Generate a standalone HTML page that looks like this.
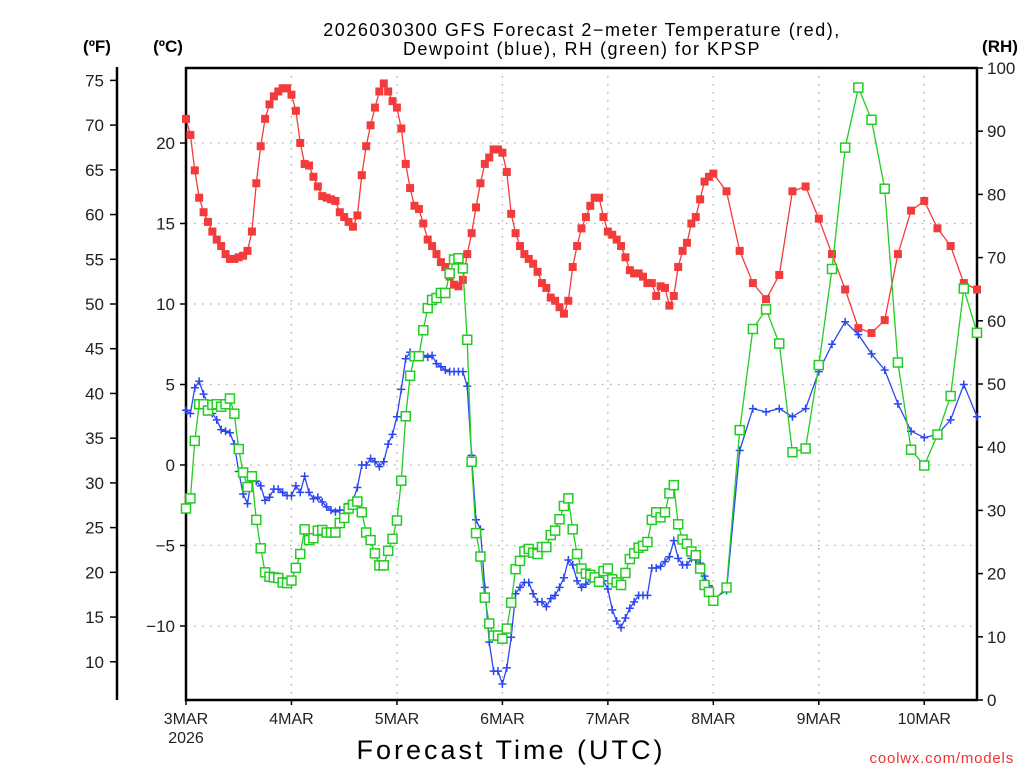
<!DOCTYPE html>
<html><head><meta charset="utf-8"><style>
html,body{margin:0;padding:0;background:#fff;width:1024px;height:768px;overflow:hidden}
svg text{font-family:"Liberation Sans",sans-serif}
</style></head><body>
<svg id="chart" width="1024" height="768" viewBox="0 0 1024 768" xmlns="http://www.w3.org/2000/svg">
<g id="grid"></g>
<g id="axes"></g>
<g id="series"></g>
<text x="582" y="36" font-size="18" text-anchor="middle" letter-spacing="1.5">2026030300 GFS Forecast 2−meter Temperature (red),</text>
<text x="582" y="55" font-size="18" text-anchor="middle" letter-spacing="1.5">Dewpoint (blue), RH (green) for KPSP</text>
<text x="97" y="52" font-size="17" font-weight="bold" text-anchor="middle">(ºF)</text>
<text x="168" y="52" font-size="17" font-weight="bold" text-anchor="middle">(ºC)</text>
<text x="1000" y="52" font-size="17" font-weight="bold" text-anchor="middle">(RH)</text>
<text x="511" y="759" font-size="27" text-anchor="middle" letter-spacing="3">Forecast Time (UTC)</text>
<text x="1014" y="763" font-size="15" fill="#e33" text-anchor="end" letter-spacing="0.8">coolwx.com/models</text>
</svg>
<script>
const hours = [];
for (let h = 0; h <= 120; h++) hours.push(h);
for (let h = 123; h <= 180; h += 3) hours.push(h);
const dayLabels = ["3MAR","4MAR","5MAR","6MAR","7MAR","8MAR","9MAR","10MAR"];
const celsiusTicks = [-10,-5,0,5,10,15,20];
const fahrenheitTicks = [10,15,20,25,30,35,40,45,50,55,60,65,70,75];
const rhTicks = [0,10,20,30,40,50,60,70,80,90,100];
const tempC = [21.5,20.5,18.3,16.6,15.7,15.1,14.5,14.0,13.6,13.1,12.8,12.8,12.9,13.0,13.3,14.5,17.5,19.8,21.5,22.4,22.9,23.2,23.4,23.4,23.0,22.0,20.0,18.7,18.6,17.9,17.3,16.7,16.6,16.5,16.4,15.7,15.4,15.1,14.8,15.5,18.0,19.8,21.1,22.2,23.2,23.7,23.2,22.6,22.2,20.9,18.7,17.2,16.1,15.9,15.0,14.0,13.6,13.1,12.6,12.3,11.7,11.2,11.1,11.5,13.1,14.4,16.0,17.5,18.7,19.1,19.6,19.6,19.4,18.2,15.6,14.4,13.6,13.1,12.8,12.5,12.0,11.3,11.0,10.4,10.2,9.8,9.4,10.2,12.3,13.6,14.7,15.4,16.1,16.6,16.6,15.4,14.5,14.3,14.0,13.6,12.9,12.1,11.9,11.9,11.7,11.3,11.3,10.5,11.1,11.0,9.9,10.5,12.3,13.3,13.8,15.0,15.4,16.5,17.6,17.9,18.1,17.0,13.3,11.3,10.3,11.8,17.0,17.3,15.3,13.1,10.9,8.5,8.2,9.0,13.1,15.8,16.4,14.7,13.6,11.3,10.9];
const dewC = [3.4,3.2,4.8,5.2,4.4,3.8,3.2,2.8,2.2,2.1,2.0,1.3,-0.4,-1.8,-2.4,-0.7,-1.0,-1.3,-2.2,-2.0,-1.5,-1.5,-1.7,-1.9,-1.9,-1.3,-1.7,-0.7,-1.7,-2.1,-2.0,-2.3,-2.6,-2.8,-2.9,-2.8,-2.8,-2.4,-2.2,-1.4,0.0,0.0,0.4,0.2,-0.1,0.2,1.3,1.9,3.0,4.7,6.6,7.0,6.8,6.8,6.8,6.7,6.8,6.3,6.1,5.9,5.8,5.8,5.8,5.8,4.9,0.6,-3.4,-4.0,-7.6,-11.0,-12.8,-12.8,-13.6,-12.6,-10.7,-8.0,-7.6,-7.3,-7.3,-8.0,-8.5,-8.5,-8.8,-8.3,-8.1,-7.6,-7.0,-5.9,-6.2,-7.2,-7.6,-7.4,-7.1,-6.9,-7.2,-7.2,-7.7,-9.0,-9.7,-10.1,-9.5,-8.9,-8.5,-8.1,-8.1,-8.1,-6.4,-6.4,-6.3,-6.0,-5.7,-4.7,-5.8,-6.2,-6.2,-5.8,-5.9,-6.1,-6.9,-7.5,-8.3,-7.8,0.9,3.5,3.3,3.5,3.0,3.5,5.8,7.5,8.9,8.1,6.9,5.9,3.8,2.1,1.7,1.9,2.8,5.0,3.0];
const rhPct = [30.3,31.9,41.0,46.8,46.8,45.8,46.7,46.8,46.4,46.8,47.7,45.3,39.7,36.0,33.7,35.4,28.5,24.0,20.2,19.5,19.4,19.3,18.6,18.5,18.9,20.9,23.1,27.0,25.3,25.6,26.8,26.9,26.5,26.5,26.5,28.0,28.8,30.3,30.9,31.4,29.7,26.5,25.3,23.2,21.3,21.3,23.6,25.5,28.4,34.7,44.9,51.3,54.4,54.4,58.5,62.0,63.3,63.6,64.4,64.4,67.5,69.7,69.9,68.3,57.0,37.7,26.4,22.7,16.2,12.1,10.2,10.2,9.7,11.3,15.4,20.7,22.0,23.5,23.9,23.3,23.1,24.2,24.2,26.1,26.8,28.6,30.7,31.9,27.0,23.1,20.8,20.0,19.8,19.4,18.7,20.4,20.8,19.1,18.6,18.2,20.1,22.3,23.2,24.1,24.4,25.0,28.5,29.7,28.9,29.7,32.7,34.0,27.8,25.4,24.7,23.5,22.9,20.8,18.2,17.1,15.7,17.8,42.7,58.7,61.8,56.4,39.2,39.8,53.0,68.2,87.4,96.9,91.8,80.9,53.4,39.6,37.1,42.0,48.1,65.1,58.1];

const L=186,R=977,T=68,B=700,HMAX=180;
const xS=h=>L+(R-L)*h/HMAX;
const yC=c=>465-c*16.1;
const yF=f=>yC((f-32)*5/9);
const yRH=r=>B-(B-T)*r/100;
const NS="http://www.w3.org/2000/svg";
function mk(tag,attrs,parent){const e=document.createElementNS(NS,tag);for(const k in attrs)e.setAttribute(k,attrs[k]);parent.appendChild(e);return e;}
const grid=document.getElementById('grid'),axes=document.getElementById('axes'),series=document.getElementById('series');

celsiusTicks.forEach(c=>{
  const y=yC(c);
  const g=mk('line',{x1:L,x2:R,y1:y,y2:y,stroke:'#aaa','stroke-width':1.3,'stroke-dasharray':'1.5 6.5'},grid);
  
  
  const t=mk('line',{x1:L-6,x2:L,y1:y,y2:y,stroke:'#000','stroke-width':1.5},axes);
  
  
  const tx=mk('text',{x:L-11,y:y+6,'font-size':17,'text-anchor':'end',fill:'#222'},axes);
  
  
  tx.textContent=c<0?'−'+Math.abs(c):String(c);
});
dayLabels.forEach((d,i)=>{
  const x=xS(i*24);
  if(i>0){const g=mk('line',{x1:x,x2:x,y1:T,y2:B,stroke:'#aaa','stroke-width':1.3,'stroke-dasharray':'1.5 6.5'},grid);
  
  }
  const t=mk('line',{x1:x,x2:x,y1:B,y2:B+5,stroke:'#000','stroke-width':1.5},axes);
  
  
  const tx=mk('text',{x:x,y:724,'font-size':16,'text-anchor':'middle',fill:'#222'},axes);
  
  
  tx.textContent=d;
});
const yr=mk('text',{x:xS(0),y:743,'font-size':16,'text-anchor':'middle',fill:'#222'},axes);


yr.textContent='2026';
fahrenheitTicks.forEach(f=>{
  const y=yF(f);
  const t=mk('line',{x1:110,x2:117,y1:y,y2:y,stroke:'#000','stroke-width':1.5},axes);
  
  
  const tx=mk('text',{x:104,y:y+6,'font-size':17,'text-anchor':'end',fill:'#222'},axes);
  
  
  tx.textContent=String(f);
});
rhTicks.forEach(r=>{
  const y=yRH(r);
  const t=mk('line',{x1:R,x2:R+6,y1:y,y2:y,stroke:'#000','stroke-width':1.5},axes);
  
  
  const tx=mk('text',{x:R+10,y:y+6,'font-size':17,'text-anchor':'start',fill:'#222'},axes);
  
  
  tx.textContent=String(r);
});
const fa=mk('line',{x1:117,x2:117,y1:T-1,y2:B,stroke:'#000','stroke-width':2.5},axes);


const frame=mk('rect',{x:L,y:T,width:R-L,height:B-T,fill:'none',stroke:'#000','stroke-width':2.5},axes);



function drawSeries(vals,yfn,color,kind,name){
  const g=mk('g',{},series);
  
  
  const pts=vals.map((v,i)=>[xS(hours[i]),yfn(v)]);
  const pl=mk('polyline',{points:pts.map(p=>p[0].toFixed(1)+','+p[1].toFixed(1)).join(' '),fill:'none',stroke:color,'stroke-width':1.3},g);
  
  
  pts.forEach(p=>{
    let m;
    if(kind==='fill'){m=mk('rect',{x:p[0]-4,y:p[1]-4,width:8,height:8,fill:color},g);}
    else if(kind==='open'){m=mk('rect',{x:p[0]-4.5,y:p[1]-4.5,width:9,height:9,fill:'#fff',stroke:color,'stroke-width':1.5},g);}
    else {m=mk('path',{d:`M${p[0]-4},${p[1]}h8M${p[0]},${p[1]-4}v8`,stroke:color,'stroke-width':1.5,fill:'none'},g);}
    
    
  });
}
drawSeries(tempC,yC,'#f33b3b','fill','temperature');
drawSeries(dewC,yC,'#2b46f0','plus','dewpoint');
drawSeries(rhPct,yRH,'#22cc22','open','relative-humidity');
</script>
</body></html>
